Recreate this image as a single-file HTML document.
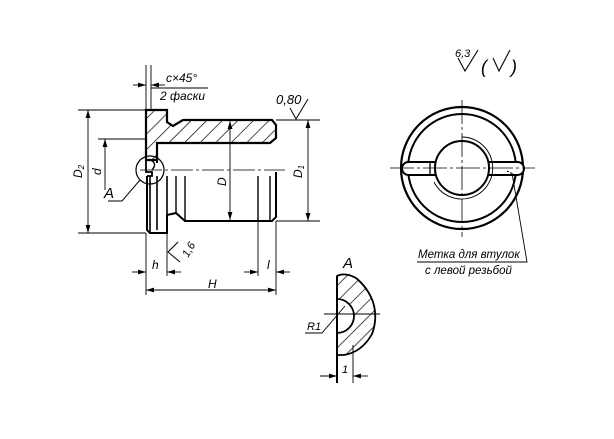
<!DOCTYPE html>
<html><head><meta charset="utf-8"><style>
html,body{margin:0;padding:0;background:#fff}
svg{display:block}
text{font-family:"Liberation Sans","DejaVu Sans",sans-serif;font-style:italic;fill:#000}
</style></head><body>
<svg width="614" height="439" viewBox="0 0 614 439" xmlns="http://www.w3.org/2000/svg">
<defs>
<pattern id="h" patternUnits="userSpaceOnUse" width="11" height="11" patternTransform="rotate(45)">
<line x1="0" y1="0" x2="0" y2="11" stroke="#000" stroke-width="1.4"/>
</pattern>
<marker id="a" viewBox="0 0 10 6" refX="10" refY="3" markerWidth="8" markerHeight="5" orient="auto-start-reverse" markerUnits="userSpaceOnUse"><path d="M0,0L10,3L0,6z" fill="#000"/></marker>
</defs>
<g fill="none" stroke="#000">
<path d="M146,110 L167,110 L167,122 L173,126 L183,120 L272,120 L276,125 L276,138 L270,143 L157,143 L157,160 L146,160 Z" fill="url(#h)" stroke-width="2.2"/>
<line x1="157" y1="143" x2="157" y2="163" stroke-width="2"/>
<path d="M147,176 L147,230 L150,233 L167,233 L167,215 L176,213 L185,221 L272,221 L276,217 L276,172" stroke-width="2"/>
<path d="M150,176 L150,233 M157,176 L157,230 M167,176 L167,215" stroke-width="1.6"/>
<path d="M176,176 L176,213 M185,176 L185,221 M258,176 L258,221 M270,176 L270,221" stroke-width="1.4"/>
<path d="M146,160 L146,172 L152,172 L152,176 L147,176" stroke-width="1.8"/>
<path d="M150,160 Q158,163 152,170" stroke-width="1.4"/>
<line x1="140" y1="170" x2="285" y2="170" stroke-width="0.8" stroke-dasharray="22,3,3,3"/>
<circle cx="150" cy="170" r="14" stroke-width="1.2"/>
<path d="M140,180 L122,201 L108,201" stroke-width="1"/>
<path d="M78,110 L146,110 M78,233 L146,233" stroke-width="0.9"/>
<line x1="88" y1="110" x2="88" y2="233" stroke-width="0.9" marker-start="url(#a)" marker-end="url(#a)"/>
<path d="M98,139 L146,139" stroke-width="0.9"/>
<line x1="105" y1="190" x2="105" y2="139" stroke-width="0.9" marker-end="url(#a)"/>
<line x1="230" y1="121" x2="230" y2="220" stroke-width="0.9" marker-start="url(#a)" marker-end="url(#a)"/>
<path d="M276,120 L320,120 M276,221 L320,221" stroke-width="0.9"/>
<line x1="308" y1="120" x2="308" y2="221" stroke-width="0.9" marker-start="url(#a)" marker-end="url(#a)"/>
<path d="M146,233 L146,295 M167,233 L167,276 M276,221 L276,295 M258,221 L258,276" stroke-width="0.9"/>
<line x1="132" y1="272" x2="146" y2="272" stroke-width="0.9" marker-end="url(#a)"/>
<line x1="181" y1="272" x2="167" y2="272" stroke-width="0.9" marker-end="url(#a)"/>
<line x1="244" y1="272" x2="258" y2="272" stroke-width="0.9" marker-end="url(#a)"/>
<line x1="290" y1="272" x2="276" y2="272" stroke-width="0.9" marker-end="url(#a)"/>
<line x1="146" y1="290" x2="276" y2="290" stroke-width="0.9" marker-start="url(#a)" marker-end="url(#a)"/>
<path d="M146,65 L146,110 M151,65 L151,110" stroke-width="0.9"/>
<line x1="133" y1="85" x2="146" y2="85" stroke-width="0.9" marker-end="url(#a)"/>
<line x1="165" y1="85" x2="151" y2="85" stroke-width="0.9" marker-end="url(#a)"/>
<line x1="151" y1="88" x2="208" y2="88" stroke-width="0.9"/>
<path d="M290,108 L296,119 L308,99" stroke-width="1"/>
<path d="M178,242 L168,252 L180,262" stroke-width="1"/>
<circle cx="462" cy="168" r="61" stroke-width="2.2"/>
<circle cx="462" cy="168" r="54" stroke-width="2"/>
<rect x="402" y="162" width="122" height="13" rx="6.5" fill="#fff" stroke-width="2"/>
<circle cx="462" cy="168" r="27" fill="#fff" stroke-width="2"/>
<path d="M430,162 L430,175 M435,162 L435,175" stroke-width="1.3"/>
<path d="M462,137 A31,31 0 1,1 434,182" stroke-width="0.9"/>
<line x1="390" y1="168" x2="535" y2="168" stroke-width="0.8" stroke-dasharray="24,3,3,3"/>
<line x1="462" y1="100" x2="462" y2="237" stroke-width="0.8" stroke-dasharray="24,3,3,3"/>
<path d="M512,173 L527,262 L417,262" stroke-width="0.9"/>
<path d="M507,171 L517,176" stroke-width="1" stroke-dasharray="2,1.5"/>
<path d="M458,58 L465,71 L478,50" stroke-width="1.1"/>
<path d="M493,58 L499,71 L510,50" stroke-width="1.1"/>
<path d="M337,276 Q345,272 356,278 Q368,288 373,302 Q378,318 372,334 Q362,352 344,355 L337,355 L337,333 A17,17 0 0,0 337,299 Z" fill="url(#h)" stroke-width="1.8"/>
<line x1="337" y1="276" x2="337" y2="383" stroke-width="2"/>
<line x1="353" y1="345" x2="353" y2="383" stroke-width="0.9"/>
<line x1="324" y1="314" x2="380" y2="314" stroke-width="0.9"/>
<path d="M305,333 L322,333 L345,306" stroke-width="0.9"/>
<line x1="320" y1="376" x2="337" y2="376" stroke-width="0.9" marker-end="url(#a)"/>
<line x1="368" y1="376" x2="353" y2="376" stroke-width="0.9" marker-end="url(#a)"/>
</g>
<g font-size="12">
<text x="166" y="82">c×45°</text>
<text x="160" y="100">2 фаски</text>
<text x="276" y="104" font-size="13">0,80</text>
<text x="104" y="198" font-size="15">A</text>
<text x="152" y="269">h</text>
<text x="267" y="269">l</text>
<text x="208" y="288">H</text>
<text transform="translate(82,178) rotate(-90)">D<tspan font-size="8" dy="2">2</tspan></text>
<text transform="translate(101,175) rotate(-90)">d</text>
<text transform="translate(226,186) rotate(-90)">D</text>
<text transform="translate(302,178) rotate(-90)">D<tspan font-size="8" dy="2">1</tspan></text>
<text transform="translate(188,258) rotate(-60)" font-size="11">1,6</text>
<text x="455" y="57" font-size="11">6,3</text>
<text x="481" y="73" font-size="18" font-style="normal">(</text>
<text x="511" y="73" font-size="18" font-style="normal">)</text>
<text x="418" y="258" font-size="11.5">Метка для втулок</text>
<text x="425" y="274" font-size="11.5">с левой резьбой</text>
<text x="343" y="268" font-size="15">A</text>
<text x="307" y="330" font-size="11">R1</text>
<text x="342" y="373" font-size="11">1</text>
</g>
</svg>
</body></html>
